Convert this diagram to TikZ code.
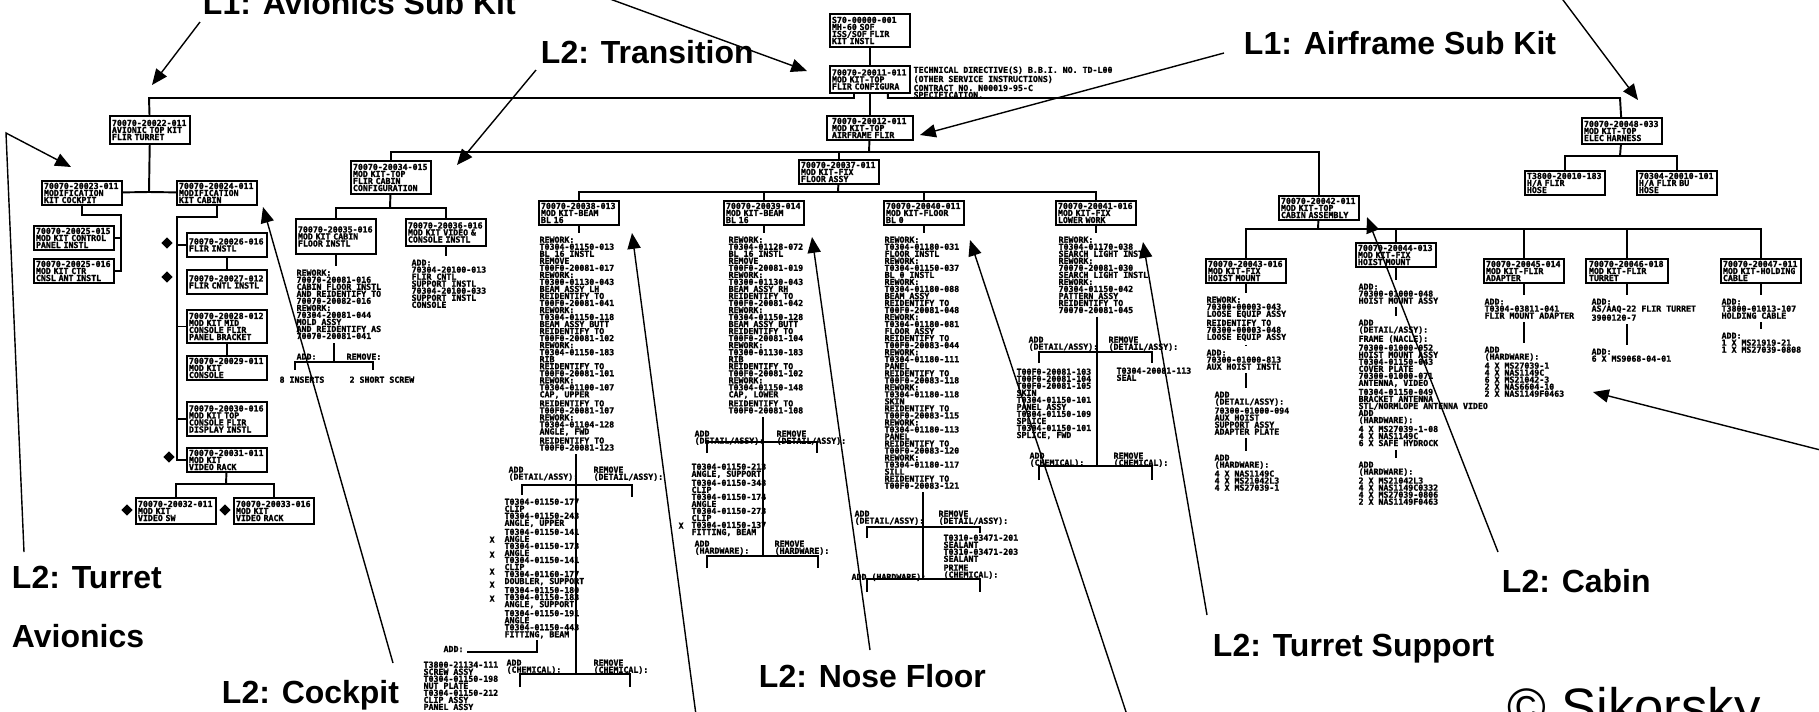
\documentclass[tikz,border=0pt]{standalone}
\usepackage{fontspec}
\setmainfont{Liberation Sans}
\newfontfamily\cadfont[BoldFeatures={FakeBold=1.6}]{DejaVu Sans Mono}
\newcommand{\cad}{\cadfont\bfseries\fontsize{4.7}{4}\selectfont}
\usetikzlibrary{arrows.meta,shapes.geometric}

\begin{document}
\begin{tikzpicture}[x=0.02cm, y=-0.02cm, line width=1.1pt,
  part/.style={draw, anchor=north west, inner sep=0.6pt, text width=1.52cm,
    minimum width=1.6cm, minimum height=0.48cm, align=left, font=\cad},
  note/.style={anchor=north west, inner sep=1.5pt, align=left, font=\cad},
  lbl/.style={anchor=base west, inner sep=0pt, font=\fontsize{18.2}{22}\selectfont\bfseries},
  pointer/.style={line width=0.8pt, -{Triangle[length=9pt,width=7.5pt]}},
  flag/.style={diamond, draw, fill=black, inner sep=0pt, minimum size=0.2cm, line width=0.6pt}]
\useasboundingbox (0,0) rectangle (1819,711);
\clip (0,0) rectangle (1819,711);

% top of the tree
\node[part, minimum height=0.66cm] (root) at (829,13) {S70-00000-001\\MH-60 SOF\\ISS/SOF FLIR\\KIT INSTL};
\node[part, minimum height=0.54cm] (td) at (829,65) {70070-20011-011\\MOD KIT-TOP\\FLIR CONFIGURA};
\node[note] (tdnote) at (910,63) {TECHNICAL DIRECTIVE(S) B.B.I. NO. TD-L00\\(OTHER SERVICE INSTRUCTIONS)\\CONTRACT NO. N00019-95-C\\SPECIFICATION.};
\node[part, minimum width=1.72cm] (af) at (826,115) {70070-20012-011\\MOD KIT-TOP\\AIRFRAME FLIR};

% avionics sub kit
\node[part, minimum height=0.56cm] (av) at (109,115) {70070-20022-011\\AVIONIC TOP KIT\\FLIR TURRET};
\node[part] (tu) at (41,180) {70070-20023-011\\MODIFICATION\\KIT COCKPIT};
\node[part] (cp) at (176,180) {70070-20024-011\\MODIFICATION\\KIT CABIN};
\node[part] (tu1) at (33,225) {70070-20025-015\\MOD KIT CONTROL\\PANEL INSTL};
\node[part] (tu2) at (33,258) {70070-20025-016\\MOD KIT CTR\\CNSL ANT INSTL};
\node[part] (c1) at (186,232) {70070-20026-016\\FLIR INSTL};
\node[part] (c2) at (186,269) {70070-20027-012\\FLIR CNTL INSTL};
\node[part, minimum height=0.66cm] (c3) at (186,309) {70070-20028-012\\MOD KIT MID\\CONSOLE FLIR\\PANEL BRACKET};
\node[part] (c4) at (186,355) {70070-20029-011\\MOD KIT\\CONSOLE};
\node[part, minimum height=0.68cm] (c5) at (186,401) {70070-20030-016\\MOD KIT TOP\\CONSOLE FLIR\\DISPLAY INSTL};
\node[part] (c6) at (186,447) {70070-20031-011\\MOD KIT\\VIDEO RACK};
\node[part, minimum height=0.52cm] (c7) at (135,497) {70070-20032-011\\MOD KIT\\VIDEO SW};
\node[part, minimum height=0.52cm] (c8) at (233,497) {70070-20033-016\\MOD KIT\\VIDEO RACK};
\node[flag] (d1) at (167,243) {};
\node[flag] (d2) at (167,277) {};
\node[flag] (d3) at (169,457) {};
\node[flag] (d4) at (127,510) {};
\node[flag] (d5) at (225,510) {};

% transition
\node[part, minimum height=0.66cm] (tr) at (350,160) {70070-20034-015\\MOD KIT-TOP\\FLIR CABIN\\CONFIGURATION};
\node[part, minimum height=0.70cm] (t1) at (295,218) {70070-20035-016\\MOD KIT CABIN\\FLOOR INSTL};
\node[part, minimum height=0.54cm] (t2) at (405,218) {70070-20036-016\\MOD KIT VIDEO \&\\CONSOLE INSTL};
\node[note] (t1rw) at (293,266) {REWORK:\\70070-20081-016\\CABIN FLOOR INSTL\\AND REIDENTIFY TO\\70070-20082-016\\REWORK:\\70304-20081-044\\MOLD ASSY\\AND REIDENTIFY AS\\70070-20081-041};
\node[note] (t2rw) at (408,256) {ADD:\\70304-20100-013\\FLIR CNTL\\SUPPORT INSTL\\70304-20100-033\\SUPPORT INSTL\\CONSOLE};
\node[note] (t1add) at (293,350) {ADD:};
\node[note] (t1rem) at (343,350) {REMOVE:};
\node[note] (t1ins) at (276,373) {8 INSERTS};
\node[note] (t1scr) at (346,373) {2 SHORT SCREW};

% floor group
\node[part] (fg) at (798,159) {70070-20037-011\\MOD KIT-FIX\\FLOOR ASSY};
\node[part] (g1) at (538,200) {70070-20038-013\\MOD KIT-BEAM\\BL 16};
\node[part] (g2) at (723,200) {70070-20039-014\\MOD KIT-BEAM\\BL 16};
\node[part] (g3) at (883,200) {70070-20040-011\\MOD KIT-FLOOR\\BL 0};
\node[part] (g4) at (1055,200) {70070-20041-016\\MOD KIT-FIX\\LOWER WORK};

\node[note] (g1rw) at (536,233) {REWORK:\\T0304-01150-013\\BL 16 INSTL\\REMOVE\\T00F0-20081-017\\REWORK:\\T0300-01130-043\\BEAM ASSY LH\\REIDENTIFY TO\\T00F0-20081-041\\REWORK:\\T0304-01150-118\\BEAM ASSY BUTT\\REIDENTIFY TO\\T00F0-20081-102\\REWORK:\\T0304-01150-183\\RIB\\REIDENTIFY TO\\T00F0-20081-101\\REWORK:\\T0304-01100-107\\CAP, UPPER\\REIDENTIFY TO\\T00F0-20081-107\\REWORK:\\T0304-01104-128\\ANGLE, FWD\\REIDENTIFY TO\\T00F0-20081-123};
\node[note] (g1da) at (505,463) {ADD\\(DETAIL/ASSY):};
\node[note] (g1dr) at (590,463) {REMOVE\\(DETAIL/ASSY):};
\node[note] (g1lc) at (501,495) {T0304-01150-177\\CLIP\\T0304-01150-243\\ANGLE, UPPER\\T0304-01150-141\\ANGLE\\T0304-01150-173\\ANGLE\\T0304-01150-141\\CLIP\\T0304-01160-177\\DOUBLER, SUPPORT\\T0304-01150-180\\T0304-01150-183\\ANGLE, SUPPORT\\T0304-01150-191\\ANGLE\\T0304-01150-443\\FITTING, BEAM};
\foreach \yy in {533,548,565,578,592}
  \node[note] (gx\yy) at (486,\yy) {X};
\node[note, anchor=base west] (g1add) at (440,652) {ADD:};
\coordinate (g1p) at (537,640);
\node[note] (g1ad) at (420,658) {T3800-21134-111\\SCREW ASSY\\T0304-01150-198\\NUT PLATE\\T0304-01150-212\\CLIP ASSY\\PANEL ASSY};
\node[note] (g1ca) at (503,656) {ADD\\(CHEMICAL):};
\node[note] (g1cr) at (590,656) {REMOVE\\(CHEMICAL):};

\node[note] (g2rw) at (725,233) {REWORK:\\T0304-01128-072\\BL 16 INSTL\\REMOVE\\T00F0-20081-019\\REWORK:\\T0300-01130-043\\BEAM ASSY RH\\REIDENTIFY TO\\T00F0-20081-042\\REWORK:\\T0304-01150-128\\BEAM ASSY BUTT\\REIDENTIFY TO\\T00F0-20081-104\\REWORK:\\T0300-01130-183\\RIB\\REIDENTIFY TO\\T00F0-20081-102\\REWORK:\\T0304-01150-148\\CAP, LOWER\\REIDENTIFY TO\\T00F0-20081-108};
\node[note] (g2da) at (691,427) {ADD\\(DETAIL/ASSY):};
\node[note] (g2dr) at (773,427) {REMOVE\\(DETAIL/ASSY):};
\node[note] (g2lc) at (688,460) {T0304-01150-213\\ANGLE, SUPPORT\\T0304-01150-348\\CLIP\\T0304-01150-174\\ANGLE\\T0304-01150-273\\CLIP\\T0304-01150-137\\FITTING, BEAM};
\node[note] (g2x) at (675,519) {X};
\node[note] (g2ha) at (691,537) {ADD\\(HARDWARE):};
\node[note] (g2hr) at (771,537) {REMOVE\\(HARDWARE):};

\node[note] (g3rw) at (881,233) {REWORK:\\T0304-01180-031\\FLOOR INSTL\\REWORK:\\T0304-01150-037\\BL 0 INSTL\\REWORK:\\T0304-01180-088\\BEAM ASSY\\REIDENTIFY TO\\T00F0-20081-048\\REWORK:\\T0304-01180-081\\FLOOR ASSY\\REIDENTIFY TO\\T00F0-20083-044\\REWORK:\\T0304-01180-111\\PANEL\\REIDENTIFY TO\\T00F0-20083-118\\REWORK:\\T0304-01180-118\\SKIN\\REIDENTIFY TO\\T00F0-20083-115\\REWORK:\\T0304-01180-113\\PANEL\\REIDENTIFY TO\\T00F0-20083-120\\REWORK:\\T0304-01180-117\\SILL\\REIDENTIFY TO\\T00F0-20083-121};
\node[note] (g3da) at (851,507) {ADD\\(DETAIL/ASSY):};
\node[note] (g3dr) at (935,507) {REMOVE\\(DETAIL/ASSY):};
\node[note] (g3rt) at (940,531) {T0310-03471-201\\SEALANT\\T0310-03471-203\\SEALANT};
\node[note] (g3pr) at (940,561) {PRIME\\(CHEMICAL):};
\node[note] (g3ha) at (848,570) {ADD (HARDWARE):};

\node[note] (g4rw) at (1055,233) {REWORK:\\T0304-01170-038\\SEARCH LIGHT INSTL\\REWORK:\\70070-20081-030\\SEARCH LIGHT INSTL\\REWORK:\\70304-01150-042\\PATTERN ASSY\\REIDENTIFY TO\\70070-20081-045};
\node[note] (g4da) at (1025,333) {ADD\\(DETAIL/ASSY):};
\node[note] (g4dr) at (1105,333) {REMOVE\\(DETAIL/ASSY):};
\node[note] (g4lc) at (1013,365) {T00F0-20081-103\\T00F0-20081-104\\T00F0-20081-105\\SKIN\\T0304-01150-101\\PANEL ASSY\\T0304-01150-109\\SPLICE\\T0304-01150-101\\SPLICE, FWD};
\node[note] (g4rt) at (1113,364) {T0304-20081-113\\SEAL};
\node[note] (g4ca) at (1026,449) {ADD\\(CHEMICAL):};
\node[note] (g4cr) at (1110,449) {REMOVE\\(CHEMICAL):};

% cabin group
\node[part] (cb) at (1278,195) {70070-20042-011\\MOD KIT-TOP\\CABIN ASSEMBLY};
\node[part] (k1) at (1205,258) {70070-20043-016\\MOD KIT-FIX\\HOIST MOUNT};
\node[part] (k2) at (1355,242) {70070-20044-013\\MOD KIT-FIX\\HOIST MOUNT};
\node[part] (k3) at (1483,258) {70070-20045-014\\MOD KIT-FLIR\\ADAPTER};
\node[part, minimum width=1.64cm] (k4) at (1585,258) {70070-20046-018\\MOD KIT-FLIR\\TURRET};
\node[part] (k5) at (1720,258) {70070-20047-011\\MOD KIT-HOLDING\\CABLE};
\node[note] (k1ra) at (1203,293) {REWORK:\\70300-00003-043\\LOOSE EQUIP ASSY\\REIDENTIFY TO\\70300-00003-048\\LOOSE EQUIP ASSY};
\node[note] (k1rb) at (1203,346) {ADD:\\70300-01000-813\\AUX HOIST INSTL};
\node[note] (k1rc) at (1211,388) {ADD\\(DETAIL/ASSY):\\70300-01000-094\\AUX HOIST\\SUPPORT ASSY\\ADAPTER PLATE};
\node[note] (k1rd) at (1211,451) {ADD\\(HARDWARE):\\4 X NAS1149C\\4 X MS21042L3\\4 X MS27039-1};
\node[note] (k2ra) at (1355,280) {ADD:\\70300-01000-048\\HOIST MOUNT ASSY};
\node[note] (k2rb) at (1355,316) {ADD\\(DETAIL/ASSY):\\FRAME (NACLE):\\70300-01000-052\\HOIST MOUNT ASSY\\T0304-01150-043\\COVER PLATE\\70300-01000-071\\ANTENNA, VIDEO\\T0304-01150-049\\BRACKET ANTENNA\\STL/NORMLOPE ANTENNA VIDEO\\ADD\\(HARDWARE):\\4 X MS27039-1-08\\4 X NAS1149C\\6 X SAFE HYDROCK};
\node[note] (k2rc) at (1355,458) {ADD\\(HARDWARE):\\2 X MS21042L3\\4 X NAS1149C0332\\4 X MS27039-0806\\2 X NAS1149F0463};
\node[note] (k3ra) at (1481,295) {ADD:\\T0304-03811-041\\FLIR MOUNT ADAPTER};
\node[note] (k3rb) at (1481,343) {ADD\\(HARDWARE):\\4 X MS27039-1\\4 X NAS1149C\\6 X MS21042-3\\2 X NAS6604-10\\2 X NAS1149F0463};
\node[note] (k4ra) at (1588,295) {ADD:\\AS/AAQ-22 FLIR TURRET\\3900120-7};
\node[note] (k4rb) at (1588,345) {ADD:\\6 X MS9068-04-01};
\node[note] (k5ra) at (1718,295) {ADD:\\T3800-01013-107\\HOLDING CABLE};
\node[note] (k5rb) at (1718,329) {ADD:\\1 X MS21919-21\\1 X MS27039-0808};

% electrical harness
\node[part, minimum height=0.52cm] (eb) at (1581,117) {70070-20048-033\\MOD KIT-TOP\\ELEC HARNESS};
\node[part] (e1) at (1524,170) {T3800-20010-183\\H/A FLIR\\HOSE};
\node[part] (e2) at (1636,170) {70304-20010-101\\H/A FLIR BU\\HOSE};

% tree lines
\coordinate (j1) at (149,98);
\coordinate (j2) at (1620,98);
\draw (av) -- (j1) -| ([xshift=-0.32cm]td.south);
\draw (eb) -- (j2) -| ([xshift=0.36cm]td.south);
\draw (root) -- (td);
\draw (td) -- (td |- af.north);
\coordinate (j3) at (869,152);
\draw (af) -- (j3);
\draw (tr) |- (j3) -| (cb);
\draw (fg) |- (j3);
\coordinate (j4) at (838,192);
\draw (fg) -- (j4);
\draw (g1) |- (j4) -| (g4);
\draw (g2) |- (j4);
\draw (g3) |- (j4);
\coordinate (j5) at (149,192);
\draw (av) -- (j5);
\draw (tu) -- (j5) -- (cp);
\coordinate (j6) at (121,215);
\draw (tu) |- (j6) |- (tu2);
\draw (tu1) -| (j6);
\coordinate (j7) at (177,217);
\draw (cp) |- (j7) |- (c6);
\draw (c1) -| (j7);
\draw (c3) -| (j7);
\draw (c5) -| (j7);
\draw (c1) -- (c2);
\draw (c3) -- (c4);
\coordinate (j8) at (226,484);
\draw (c6) -- (j8);
\draw (c7) |- (j8) -| (c8);
\coordinate (j9) at (390,208);
\draw (tr) -- (j9);
\draw (t1) |- (j9) -| (t2);
\coordinate (j10) at (1318,229);
\draw (cb) -- (j10);
\draw (k1) |- (j10) -| (k5);
\draw (k2) |- (j10);
\draw (k3) |- (j10);
\draw (k4) |- (j10);
\coordinate (j11) at (1620,156);
\draw (eb) -- (j11);
\draw (e1) |- (j11) -| (e2);

% stems down to the notes
\draw (t1) -- (t1 |- t1rw.north);
\draw (t2) -- (t2 |- t2rw.north);
\draw (g1) -- (g1 |- g1rw.north);
\draw (g2) -- (g2 |- g2rw.north);
\draw (g3) -- (g3 |- g3rw.north);
\draw (g4) -- (g4 |- g4rw.north);
\draw (k1) -- (k1 |- k1ra.north);
\draw (k1ra.south -| k1) -- (k1rb.north -| k1);
\draw (k1rb.south -| k1) -- (k1rc.north -| k1);
\draw (k1rc.south -| k1) -- (k1rd.north -| k1);
\draw (k2) -- (k2 |- k2ra.north);
\draw (k2ra.south -| k2) -- (k2rb.north -| k2);
\draw (k2rb.south -| k2) -- (k2rc.north -| k2);
\draw (k3) -- (k3 |- k3ra.north);
\draw (k3ra.south -| k3) -- (k3rb.north -| k3);
\draw (k4) -- (k4 |- k4ra.north);
\draw (k4ra.south -| k4) -- (k4rb.north -| k4);
\draw (k5) -- (k5 |- k5ra.north);
\draw (k5ra.south -| k5) -- (k5rb.north -| k5);

% add / remove forks
\coordinate (t1j) at (334,362);
\coordinate (t1l) at (295,370);
\coordinate (t1r) at (373,370);
\draw (t1j) -- (t1j |- t1rw.south);
\draw (t1l) |- (t1j) -| (t1r);
\coordinate (g1j) at (576,485);
\coordinate (g1l) at (522,495);
\coordinate (g1r) at (632,497);
\coordinate (g1k) at (576,674);
\coordinate (g1m) at (520,687);
\coordinate (g1n) at (630,687);
\draw (g1rw.south -| g1j) -- (g1j) -- (g1k);
\draw (g1l) |- (g1j) -| (g1r);
\draw (g1m) |- (g1k) -| (g1n);
\draw (g1add.base east) -| (g1p);
\coordinate (g2j) at (763,442);
\coordinate (g2l) at (707,453);
\coordinate (g2r) at (817,453);
\coordinate (g2k) at (763,556);
\coordinate (g2m) at (707,568);
\coordinate (g2n) at (818,568);
\draw (g2rw.south -| g2j) -- (g2j) -- (g2k);
\draw (g2l) |- (g2j) -| (g2r);
\draw (g2m) |- (g2k) -| (g2n);
\coordinate (g3j) at (923,527);
\coordinate (g3l) at (867,538);
\coordinate (g3r) at (980,533);
\coordinate (g3k) at (923,579);
\coordinate (g3m) at (867,592);
\coordinate (g3n) at (980,592);
\draw (g3rw.south -| g3j) -- (g3j) -- (g3k);
\draw (g3l) |- (g3j) -| (g3r);
\draw (g3m) |- (g3k) -| (g3n);
\coordinate (g4j) at (1097,352);
\coordinate (g4l) at (1039,363);
\coordinate (g4r) at (1152,363);
\coordinate (g4k) at (1097,466);
\coordinate (g4m) at (1039,480);
\coordinate (g4n) at (1152,480);
\draw (g4rw.south -| g4j) -- (g4j) -- (g4k);
\draw (g4l) |- (g4j) -| (g4r);
\draw (g4m) |- (g4k) -| (g4n);

% callouts
\node[lbl] (lAv) at (202,14) {L1: Avionics Sub Kit};
\node[lbl] (lTr) at (540,63) {L2: Transition};
\node[lbl] (lAf) at (1243,54) {L1: Airframe Sub Kit};
\node[lbl] (lTu) at (11,588) {L2: Turret};
\node[lbl] (lTu2) at (11,647) {Avionics};
\node[lbl] (lCp) at (221,703) {L2: Cockpit};
\node[lbl] (lNf) at (758,687) {L2: Nose Floor};
\node[lbl] (lTs) at (1212,656) {L2: Turret Support};
\node[lbl] (lCb) at (1501,592) {L2: Cabin};
\node[anchor=base west, inner sep=0pt, font=\fontsize{30}{36}\selectfont] (copy) at (1507,725) {© Sikorsky};

\coordinate (avS) at (200,22);   \coordinate (avE) at (152,85);
\coordinate (trS) at (536,70);   \coordinate (trE) at (457,165);
\coordinate (tdS) at (558,-20);  \coordinate (tdE) at (807,71);
\coordinate (afS) at (1224,53);  \coordinate (afE) at (920,135);
\coordinate (ebS) at (1548,-20); \coordinate (ebE) at (1638,100);
\coordinate (tuS) at (24,552);   \coordinate (tuM) at (6,133);  \coordinate (tuE) at (71,167);
\coordinate (cpS) at (393,663);  \coordinate (cpE) at (263,207);
\coordinate (g1S) at (698,730);  \coordinate (g1E) at (632,233);
\coordinate (nfS) at (870,650);  \coordinate (nfE) at (812,237);
\coordinate (g3S) at (1132,730); \coordinate (g3E) at (970,240);
\coordinate (tsS) at (1207,615); \coordinate (tsE) at (1143,242);
\coordinate (cbS) at (1498,552); \coordinate (cbE) at (1367,217);
\coordinate (k3S) at (1840,455); \coordinate (k3E) at (1593,392);
\draw[pointer] (avS) -- (avE);
\draw[pointer] (trS) -- (trE);
\draw[pointer] (tdS) -- (tdE);
\draw[pointer] (afS) -- (afE);
\draw[pointer] (ebS) -- (ebE);
\draw[pointer] (tuS) -- (tuM) -- (tuE);
\draw[pointer] (cpS) -- (cpE);
\draw[pointer] (g1S) -- (g1E);
\draw[pointer] (nfS) -- (nfE);
\draw[pointer] (g3S) -- (g3E);
\draw[pointer] (tsS) -- (tsE);
\draw[pointer] (cbS) -- (cbE);
\draw[pointer] (k3S) -- (k3E);
\end{tikzpicture}
\end{document}
